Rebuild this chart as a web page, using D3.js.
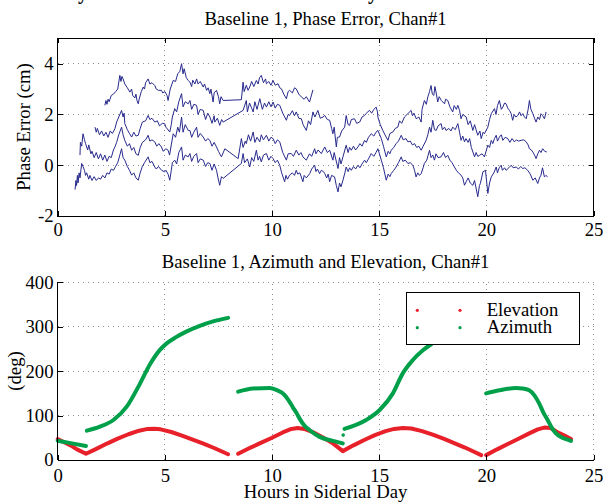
<!DOCTYPE html>
<html>
<head>
<meta charset="utf-8">
<script src="https://cdn.jsdelivr.net/npm/d3@7"></script>
<style>
  body { margin: 0; background: #fff; }
  svg { display: block; }
  text { font-family: "Liberation Serif", "Times New Roman", Times, serif; }
</style>
</head>
<body>
<script>
// ---- data: [hours, value] ----
var phaseTrace1 = [[2.20,2.36],[2.25,2.55],[2.30,2.40],[2.35,2.60],[2.40,2.50],[2.50,2.75],[2.60,2.80],[2.70,2.90],[2.80,3.00],[2.90,3.54],[2.95,3.30],[3.00,3.50],[3.05,3.40],[3.13,3.20],[3.25,3.05],[3.37,2.88],[3.45,3.00],[3.50,2.75],[3.60,2.65],[3.65,2.80],[3.70,2.55],[3.76,2.42],[3.80,2.60],[3.90,2.90],[3.99,3.08],[4.05,3.00],[4.10,3.25],[4.22,3.40],[4.30,3.20],[4.40,3.25],[4.53,3.14],[4.60,3.00],[4.70,2.95],[4.84,2.95],[4.90,2.85],[5.00,2.90],[5.10,2.75],[5.15,2.55],[5.25,3.00],[5.39,3.34],[5.50,3.30],[5.60,3.60],[5.70,3.70],[5.78,4.00],[5.85,3.60],[5.90,3.80],[6.00,3.45],[6.09,3.34],[6.17,3.27],[6.25,3.10],[6.30,3.35],[6.40,3.20],[6.48,3.40],[6.55,3.20],[6.65,3.30],[6.79,3.08],[6.85,3.20],[6.95,2.95],[7.02,3.05],[7.10,2.82],[7.15,3.00],[7.25,2.49],[7.30,2.85],[7.41,2.95],[7.50,2.70],[7.56,2.42],[7.62,2.70],[7.72,2.55],[8.57,2.58],[8.65,3.27],[8.70,2.90],[8.80,3.15],[8.88,2.95],[8.96,3.08],[9.05,3.30],[9.15,3.10],[9.27,3.34],[9.35,3.20],[9.42,3.45],[9.50,3.54],[9.60,3.25],[9.70,3.40],[9.74,3.21],[9.85,3.30],[9.95,3.15],[10.05,3.34],[10.15,3.15],[10.28,3.21],[10.36,3.05],[10.44,3.01],[10.55,2.80],[10.67,2.62],[10.75,2.90],[10.82,2.95],[10.95,2.85],[11.05,3.05],[11.13,3.01],[11.25,2.80],[11.37,2.69],[11.50,2.60],[11.60,2.70],[11.75,2.49],[11.91,2.97]];

var phaseTrace2 = [[1.74,1.50],[1.80,1.30],[1.85,1.45],[1.95,1.20],[2.05,1.35],[2.15,1.15],[2.25,1.30],[2.35,1.10],[2.45,1.35],[2.55,1.25],[2.67,1.44],[2.75,1.70],[2.85,1.90],[2.98,2.16],[3.05,1.90],[3.10,2.05],[3.13,1.64],[3.25,1.40],[3.35,1.25],[3.45,1.11],[3.55,1.30],[3.65,1.15],[3.76,1.18],[3.85,1.45],[3.95,1.70],[4.10,1.75],[4.22,1.96],[4.30,1.80],[4.40,1.85],[4.53,1.70],[4.65,1.75],[4.75,1.55],[4.88,1.65],[4.99,1.64],[5.05,1.50],[5.23,1.31],[5.30,1.60],[5.35,1.90],[5.46,2.23],[5.55,2.10],[5.65,2.50],[5.78,2.82],[5.85,2.30],[5.95,2.50],[6.09,2.42],[6.17,2.55],[6.25,2.20],[6.35,2.40],[6.48,2.36],[6.55,2.00],[6.65,2.20],[6.79,2.16],[6.90,1.80],[7.00,2.05],[7.10,1.90],[7.20,1.65],[7.30,1.95],[7.33,1.70],[7.45,1.85],[7.56,1.57],[7.65,1.80],[7.72,1.70],[8.65,2.16],[8.80,2.55],[8.85,2.10],[8.95,2.45],[9.05,2.25],[9.12,2.10],[9.20,2.50],[9.30,2.20],[9.43,2.62],[9.55,2.20],[9.65,2.45],[9.74,2.29],[9.85,2.50],[9.95,2.30],[10.05,2.49],[10.15,2.25],[10.25,2.40],[10.36,2.36],[10.50,2.05],[10.67,1.77],[10.75,2.00],[10.82,1.96],[10.95,2.15],[11.05,1.95],[11.13,2.10],[11.25,1.85],[11.37,1.83],[11.45,1.60],[11.60,1.37],[11.70,1.75],[11.80,1.60],[11.91,2.10],[12.00,1.90],[12.14,2.16],[12.25,1.85],[12.38,1.90],[12.46,1.96],[12.58,1.80],[12.69,1.77],[12.78,1.45],[12.84,1.24],[12.90,1.50],[13.00,0.72],[13.05,1.10],[13.15,1.11],[13.25,1.35],[13.39,1.50],[13.46,1.96],[13.55,1.60],[13.62,1.57],[13.70,1.80],[13.85,1.83],[13.95,1.65],[14.09,1.70],[14.20,1.90],[14.32,1.96],[14.40,2.05],[14.55,2.16],[14.65,2.05],[14.75,2.20],[14.86,2.29],[14.92,2.10],[14.94,1.90],[15.05,1.60],[15.17,1.37],[15.30,1.15],[15.41,0.98],[15.50,1.25],[15.64,1.31],[15.75,1.45],[15.87,1.50],[15.95,1.75],[16.05,1.65],[16.18,1.90],[16.30,2.00],[16.49,2.16],[16.55,1.95],[16.62,2.05],[16.73,1.83],[16.85,1.90],[16.96,1.70],[17.00,2.20],[17.11,2.55],[17.20,2.40],[17.27,2.69],[17.35,2.90],[17.42,3.14],[17.48,2.80],[17.55,2.75],[17.60,3.10],[17.66,2.85],[17.73,2.49],[17.80,2.70],[17.90,2.55],[18.05,2.42],[18.10,2.60],[18.20,2.55],[18.30,2.30],[18.43,2.10],[18.50,2.35],[18.60,2.20],[18.67,2.36],[18.75,2.16],[18.82,1.83],[18.90,2.00],[19.06,1.90],[19.15,1.60],[19.25,1.75],[19.37,1.37],[19.45,1.60],[19.60,1.18],[19.70,1.35],[19.76,1.05],[19.85,1.30],[19.91,1.24],[20.07,1.50],[20.15,1.80],[20.23,2.03],[20.38,2.23],[20.45,2.00],[20.52,2.35],[20.61,2.55],[20.70,2.20],[20.77,2.29],[20.85,2.45],[20.92,2.42],[21.00,2.25],[21.08,2.16],[21.15,2.05],[21.23,1.77],[21.30,2.00],[21.38,1.90],[21.47,1.96],[21.55,2.10],[21.62,1.95],[21.70,2.03],[21.78,1.90],[21.86,1.83],[21.95,2.20],[22.01,2.55],[22.08,2.20],[22.17,2.03],[22.25,1.85],[22.32,1.70],[22.40,1.90],[22.48,1.80],[22.55,2.03],[22.63,1.95],[22.71,1.83],[22.79,2.10]];

var phaseTrace3 = [[1.04,0.40],[1.06,0.90],[1.12,0.75],[1.18,1.24],[1.25,1.00],[1.30,0.85],[1.40,0.60],[1.45,0.80],[1.55,0.45],[1.60,0.55],[1.70,0.30],[1.80,0.50],[1.90,0.25],[2.00,0.45],[2.10,0.20],[2.20,0.40],[2.30,0.15],[2.40,0.35],[2.50,0.30],[2.60,0.60],[2.67,0.72],[2.75,0.90],[2.85,1.20],[2.98,1.50],[3.05,1.20],[3.13,0.98],[3.25,0.75],[3.35,0.85],[3.45,0.59],[3.55,0.70],[3.65,0.45],[3.76,0.39],[3.85,0.70],[3.95,0.90],[4.10,1.00],[4.22,1.18],[4.30,0.95],[4.40,1.00],[4.53,0.92],[4.62,0.75],[4.72,0.85],[4.84,0.72],[4.92,0.55],[5.05,0.65],[5.15,0.59],[5.22,0.40],[5.30,0.80],[5.39,1.24],[5.50,1.10],[5.60,1.50],[5.68,1.30],[5.78,1.90],[5.85,1.30],[5.95,1.60],[6.09,1.37],[6.17,1.37],[6.25,1.10],[6.35,1.30],[6.48,1.50],[6.55,1.10],[6.65,1.25],[6.79,1.11],[6.90,0.95],[7.00,1.05],[7.10,0.98],[7.20,0.75],[7.30,0.90],[7.41,0.72],[7.50,0.55],[7.64,0.33],[7.80,0.65],[8.42,0.26],[8.57,1.05],[8.65,0.70],[8.75,0.95],[8.80,0.85],[8.90,1.20],[9.00,0.95],[9.12,1.31],[9.20,0.90],[9.30,1.10],[9.43,0.92],[9.50,1.20],[9.60,1.00],[9.74,1.18],[9.85,0.95],[9.95,1.10],[10.05,1.05],[10.15,0.85],[10.25,1.00],[10.36,0.92],[10.50,0.50],[10.67,0.20],[10.75,0.45],[10.90,0.46],[11.00,0.35],[11.13,0.59],[11.25,0.40],[11.35,0.50],[11.44,0.33],[11.60,0.20],[11.75,0.45],[11.85,0.35],[11.99,0.65],[12.05,0.45],[12.15,0.60],[12.30,0.46],[12.46,0.72],[12.58,0.50],[12.69,0.59],[12.84,0.20],[12.90,0.50],[13.08,-0.13],[13.15,0.30],[13.22,0.05],[13.31,0.33],[13.46,0.79],[13.55,0.50],[13.62,0.70],[13.70,0.59],[13.80,0.75],[13.90,0.60],[14.01,0.72],[14.10,0.85],[14.20,0.75],[14.32,0.98],[14.40,0.90],[14.50,1.10],[14.63,1.24],[14.75,1.15],[14.85,1.30],[14.94,1.37],[15.10,1.05],[15.20,0.75],[15.33,0.33],[15.42,0.55],[15.50,0.45],[15.56,0.59],[15.68,0.70],[15.79,0.85],[15.90,0.95],[16.03,1.18],[16.12,1.00],[16.25,1.05],[16.34,0.92],[16.45,0.95],[16.55,0.80],[16.65,0.85],[16.75,0.70],[16.85,0.75],[16.96,0.59],[17.05,0.75],[17.19,0.98],[17.27,1.20],[17.35,1.50],[17.42,1.30],[17.50,1.77],[17.58,1.40],[17.66,1.37],[17.75,1.55],[17.89,1.64],[17.95,1.40],[18.05,1.50],[18.12,1.37],[18.25,1.45],[18.35,1.35],[18.43,1.50],[18.55,1.40],[18.67,1.64],[18.75,1.30],[18.82,0.98],[18.90,1.15],[18.98,0.92],[19.05,1.05],[19.15,0.90],[19.22,1.05],[19.30,0.70],[19.45,0.33],[19.52,0.50],[19.60,0.35],[19.68,0.39],[19.80,0.45],[19.91,0.33],[20.07,0.79],[20.15,0.70],[20.23,0.98],[20.30,0.85],[20.38,1.05],[20.46,1.18],[20.52,0.95],[20.61,1.11],[20.70,1.20],[20.77,0.98],[20.88,1.10],[21.00,1.05],[21.10,0.90],[21.20,1.05],[21.31,0.92],[21.40,1.00],[21.50,0.95],[21.62,0.98],[21.75,1.00],[21.86,0.92],[21.95,0.80],[22.01,0.65],[22.10,0.60],[22.17,0.52],[22.25,0.40],[22.32,0.26],[22.40,0.45],[22.48,0.59],[22.55,0.50],[22.63,0.65],[22.72,0.55],[22.82,0.52]];

var phaseTrace4 = [[0.81,-0.96],[0.85,-0.60],[0.88,-0.80],[0.92,-0.40],[0.95,-0.70],[1.00,-0.30],[1.04,-0.50],[1.12,0.07],[1.18,-0.05],[1.25,-0.20],[1.30,-0.40],[1.35,-0.30],[1.45,-0.55],[1.50,-0.40],[1.60,-0.60],[1.70,-0.45],[1.80,-0.60],[1.90,-0.50],[2.00,-0.55],[2.10,-0.40],[2.20,-0.50],[2.30,-0.30],[2.40,-0.35],[2.50,-0.15],[2.60,-0.20],[2.70,-0.05],[2.80,0.10],[2.90,0.40],[2.98,0.65],[3.05,0.30],[3.13,0.20],[3.25,-0.05],[3.35,-0.20],[3.45,-0.39],[3.55,-0.30],[3.65,-0.50],[3.76,-0.59],[3.85,-0.30],[3.95,-0.05],[4.05,0.10],[4.22,0.33],[4.30,0.10],[4.40,0.15],[4.53,-0.07],[4.60,-0.15],[4.70,-0.05],[4.85,-0.20],[4.99,-0.26],[5.05,-0.20],[5.15,-0.35],[5.23,-0.59],[5.30,-0.20],[5.35,0.10],[5.46,0.20],[5.55,0.05],[5.65,0.50],[5.78,0.72],[5.85,0.20],[5.95,0.40],[6.09,0.33],[6.17,0.46],[6.25,0.15],[6.35,0.35],[6.48,0.46],[6.55,0.10],[6.65,0.25],[6.79,0.20],[6.90,-0.05],[7.00,0.10],[7.10,0.07],[7.20,-0.20],[7.30,0.05],[7.41,-0.20],[7.48,-0.50],[7.56,-0.79],[7.64,-0.45],[7.72,-0.52],[8.57,0.07],[8.65,0.46],[8.72,0.10],[8.85,0.25],[8.96,-0.07],[9.05,0.30],[9.15,0.15],[9.27,0.59],[9.35,0.20],[9.42,0.35],[9.50,0.13],[9.60,0.40],[9.74,0.46],[9.85,0.20],[9.95,0.35],[10.05,0.26],[10.15,0.10],[10.25,0.20],[10.36,0.00],[10.45,-0.30],[10.59,-0.65],[10.65,-0.40],[10.72,-0.55],[10.82,-0.39],[10.95,-0.30],[11.05,-0.40],[11.13,-0.20],[11.20,-0.35],[11.30,-0.30],[11.44,-0.65],[11.50,-0.40],[11.60,-0.50],[11.76,-0.33],[11.85,-0.15],[11.99,0.00],[12.05,-0.25],[12.12,-0.15],[12.22,-0.33],[12.30,-0.20],[12.40,-0.25],[12.46,-0.33],[12.55,-0.50],[12.62,-0.35],[12.69,-0.65],[12.78,-0.40],[12.92,-0.46],[13.00,-0.80],[13.08,-1.05],[13.15,-0.70],[13.22,-0.85],[13.31,-0.59],[13.40,-0.30],[13.46,-0.07],[13.55,-0.25],[13.62,-0.10],[13.70,-0.20],[13.80,-0.05],[13.90,-0.15],[14.01,0.00],[14.10,-0.10],[14.20,0.05],[14.32,0.20],[14.40,0.10],[14.50,0.25],[14.63,0.46],[14.75,0.35],[14.85,0.50],[14.94,0.65],[15.10,0.20],[15.20,-0.10],[15.33,-0.59],[15.42,-0.35],[15.50,-0.45],[15.56,-0.33],[15.68,-0.20],[15.79,-0.07],[15.90,0.10],[16.03,0.33],[16.10,0.15],[16.22,0.20],[16.34,0.07],[16.45,0.10],[16.57,0.00],[16.65,-0.20],[16.72,-0.46],[16.80,-0.30],[16.88,-0.40],[16.96,-0.33],[17.05,-0.10],[17.11,0.07],[17.22,0.20],[17.35,0.59],[17.42,0.30],[17.50,0.40],[17.58,0.20],[17.65,0.45],[17.75,0.30],[17.89,0.33],[18.00,0.50],[18.10,0.30],[18.20,0.39],[18.30,0.20],[18.40,0.10],[18.51,-0.07],[18.60,-0.20],[18.70,-0.30],[18.82,-0.39],[18.90,-0.50],[18.98,-0.79],[19.06,-0.65],[19.15,-0.50],[19.25,-0.70],[19.37,-0.79],[19.45,-0.60],[19.52,-0.90],[19.60,-1.24],[19.68,-0.80],[19.72,-0.72],[19.78,-0.50],[19.84,-0.26],[19.96,-0.20],[20.02,-0.70],[20.07,-1.11],[20.15,-0.70],[20.23,-0.46],[20.35,-0.30],[20.46,-0.07],[20.52,-0.30],[20.60,-0.10],[20.69,0.00],[20.75,-0.20],[20.85,-0.10],[20.92,-0.20],[21.05,-0.10],[21.16,0.00],[21.25,-0.10],[21.39,-0.07],[21.50,-0.15],[21.60,-0.05],[21.70,-0.13],[21.80,-0.10],[21.93,-0.20],[22.05,-0.35],[22.17,-0.59],[22.28,-0.50],[22.40,-0.72],[22.48,-0.50],[22.55,-0.39],[22.62,-0.10],[22.71,-0.46],[22.78,-0.40],[22.86,-0.46]];

// elevation and azimuth (deg), one array per visible pass
var elevation = [
  [[0,47],[0.3,40],[0.6,33],[0.9,24],[1.32,14],[1.8,25],[2.3,37],[2.8,48],[3.3,58],[3.8,66],[4.2,70],[4.5,70.5],[4.8,69],[5.3,63],[5.8,55],[6.3,46],[6.8,37],[7.3,27],[7.95,13]],
  [[8.42,14],[9.0,28],[9.5,39],[10.0,50],[10.5,62],[10.9,70],[11.2,72],[11.5,70],[11.9,63],[12.4,50],[12.8,39],[13.3,20],[13.8,33],[14.3,45],[14.8,56],[15.3,65],[15.7,70],[16.1,72],[16.5,71],[17.0,65],[17.5,57],[18.0,48],[18.5,38],[19.0,28],[19.4,19],[19.76,11]],
  [[19.99,11],[20.5,24],[21.0,36],[21.5,48],[22.0,60],[22.4,69],[22.7,73],[23.0,72],[23.3,63],[23.6,56],[23.95,47]]
];
var azimuth = [
  [[0,43.5],[0.6,38],[1.32,31.5]],
  [[1.36,66],[1.97,75],[2.6,90],[3.22,120],[3.84,172],[4.3,215],[4.77,248],[5.1,263],[5.5,276],[6.0,289],[6.63,302],[7.25,312],[7.95,320]],
  [[8.42,154],[9.12,161],[9.89,162],[10.2,158],[10.5,150],[10.75,136],[10.98,118],[11.15,105],[11.3,92],[11.5,78],[11.76,67],[12.22,52],[12.84,43],[13.3,37.5]],
  [[13.32,56]],
  [[13.38,70],[14.39,90],[15.01,112],[15.64,150],[16.1,195],[16.57,225],[17.04,247],[17.5,263],[18.0,278],[18.5,291],[19.0,302],[19.5,311],[19.76,315]],
  [[19.99,150],[20.61,157],[21.38,162],[21.7,161],[22.0,157],[22.25,145],[22.47,127],[22.65,108],[22.86,90],[23.05,73],[23.25,60],[23.5,51],[23.72,47],[23.95,43]]
];

var hourTicks = [0, 5, 10, 15, 20, 25];
var phaseTicks = [-2, 0, 2, 4];
var degTicks = [0, 100, 200, 300, 400];
var legendNames = ['Elevation', 'Azimuth'];

// ---- layout ----
var W = 603, H = 502, fs = 18.7;
var blue = '#27298c', red = '#e8202a', green = '#00a04b';

var svg = d3.select('body').append('svg').attr('width', W).attr('height', H);

var x = d3.scaleLinear().domain([0, 25]).range([57.7, 593.5]);
var yTop = d3.scaleLinear().domain([-2, 5]).range([216, 38.3]);
var yBot = d3.scaleLinear().domain([0, 400]).range([460, 282.3]);

// partly cut-off page heading above the figure
svg.append('text').attr('x', 88).attr('y', -1.5).attr('text-anchor', 'end')
  .attr('font-weight', 'bold').attr('font-size', 20).text('Phase Stability');
svg.append('text').attr('x', 378).attr('y', -1.5).attr('text-anchor', 'end')
  .attr('font-weight', 'bold').attr('font-size', 20).text('over one Siderial Day');

function grid(y, xs, ys) {
  var g = svg.append('g').attr('stroke', '#8c8c8c').attr('stroke-width', 1)
    .attr('stroke-dasharray', '1 4').attr('shape-rendering', 'crispEdges');
  xs.forEach(function(t) {
    g.append('line').attr('x1', x(t)).attr('x2', x(t)).attr('y1', y.range()[0]).attr('y2', y.range()[1]);
  });
  ys.forEach(function(t) {
    g.append('line').attr('x1', x.range()[0]).attr('x2', x.range()[1]).attr('y1', y(t)).attr('y2', y(t));
  });
}

function styleAxis(g) {
  g.select('.domain').remove();
  g.attr('font-family', null).attr('font-size', fs);
  g.selectAll('line').attr('stroke', '#000').attr('shape-rendering', 'crispEdges');
  g.selectAll('text').attr('fill', '#000');
}

var fmt = function(d) { return String(d); };

// ---- top panel: phase error ----
grid(yTop, [5, 10, 15, 20], [0, 2, 4]);

var phaseLine = d3.line().x(function(d) { return x(d[0]); }).y(function(d) { return yTop(d[1]); });
[phaseTrace1, phaseTrace2, phaseTrace3, phaseTrace4].forEach(function(tr) {
  svg.append('path').datum(tr).attr('d', phaseLine)
    .attr('fill', 'none').attr('stroke', blue).attr('stroke-width', 1);
});

svg.append('g').attr('transform', 'translate(0,216)')
  .call(d3.axisBottom(x).tickValues(hourTicks).tickSize(-5).tickPadding(7.2).tickFormat(fmt)).call(styleAxis);
svg.append('g').attr('transform', 'translate(0,38.3)')
  .call(d3.axisTop(x).tickValues(hourTicks).tickSize(-5).tickFormat('')).call(styleAxis);
svg.append('g').attr('transform', 'translate(57.7,0)')
  .call(d3.axisLeft(yTop).tickValues(phaseTicks).tickSize(-5).tickPadding(4.2).tickFormat(fmt)).call(styleAxis);
svg.append('g').attr('transform', 'translate(593.5,0)')
  .call(d3.axisRight(yTop).tickValues(phaseTicks).tickSize(-5).tickFormat('')).call(styleAxis);

svg.append('rect').attr('x', 57.7).attr('y', 38.3).attr('width', 593.5 - 57.7).attr('height', 216 - 38.3)
  .attr('fill', 'none').attr('stroke', '#000').attr('stroke-width', 1).attr('shape-rendering', 'crispEdges');

svg.append('text').attr('x', 325.6).attr('y', 25).attr('text-anchor', 'middle').attr('font-size', fs)
  .text('Baseline 1, Phase Error, Chan#1');
svg.append('text').attr('transform', 'translate(29.5,127) rotate(-90)').attr('text-anchor', 'middle')
  .attr('font-size', fs).text('Phase Error (cm)');

// ---- bottom panel: azimuth and elevation ----
grid(yBot, [5, 10, 15, 20, 25], [100, 200, 300, 400]);

var degLine = d3.line().x(function(d) { return x(d[0]); }).y(function(d) { return yBot(d[1]); });
var azLine = d3.line().x(function(d) { return x(d[0]); }).y(function(d) { return yBot(d[1]); })
  .curve(d3.curveMonotoneX);

function passes(data, lineGen, color) {
  data.forEach(function(seg) {
    if (seg.length === 1) {
      svg.append('circle').attr('cx', x(seg[0][0])).attr('cy', yBot(seg[0][1])).attr('r', 1.8).attr('fill', color);
    } else {
      svg.append('path').datum(seg).attr('d', lineGen)
        .attr('fill', 'none').attr('stroke', color).attr('stroke-width', 4)
        .attr('stroke-linecap', 'round').attr('stroke-linejoin', 'round');
    }
  });
}
passes(elevation, degLine, red);
passes(azimuth, azLine, green);

svg.append('g').attr('transform', 'translate(0,460)')
  .call(d3.axisBottom(x).tickValues(hourTicks).tickSize(-5).tickPadding(9.2).tickFormat(fmt)).call(styleAxis);
svg.append('g').attr('transform', 'translate(57.7,0)')
  .call(d3.axisLeft(yBot).tickValues(degTicks).tickSize(-5).tickPadding(4.2).tickFormat(fmt)).call(styleAxis);

svg.append('line').attr('x1', 57.7).attr('x2', 57.7).attr('y1', 282.3).attr('y2', 460)
  .attr('stroke', '#000').attr('shape-rendering', 'crispEdges');
svg.append('line').attr('x1', 57.7).attr('x2', 593.5).attr('y1', 460).attr('y2', 460)
  .attr('stroke', '#000').attr('shape-rendering', 'crispEdges');

svg.append('text').attr('x', 325.6).attr('y', 268.3).attr('text-anchor', 'middle').attr('font-size', fs)
  .text('Baseline 1, Azimuth and Elevation, Chan#1');
svg.append('text').attr('transform', 'translate(21,371) rotate(-90)').attr('text-anchor', 'middle')
  .attr('font-size', fs).text('(deg)');
svg.append('text').attr('x', 325.6).attr('y', 498.3).attr('text-anchor', 'middle').attr('font-size', fs)
  .text('Hours in Siderial Day');

// legend
var lg = svg.append('g').attr('transform', 'translate(406,292.3)');
lg.append('rect').attr('width', 173).attr('height', 52.7).attr('fill', '#fff')
  .attr('stroke', '#000').attr('shape-rendering', 'crispEdges');
[red, green].forEach(function(c, i) {
  var yy = 18 + i * 17.4;
  lg.append('circle').attr('cx', 11.3).attr('cy', yy).attr('r', 1.6).attr('fill', c);
  lg.append('circle').attr('cx', 54).attr('cy', yy).attr('r', 1.6).attr('fill', c);
  lg.append('text').attr('x', 80.7).attr('y', yy + 5.8).attr('font-size', fs).text(legendNames[i]);
});
</script>
</body>
</html>
